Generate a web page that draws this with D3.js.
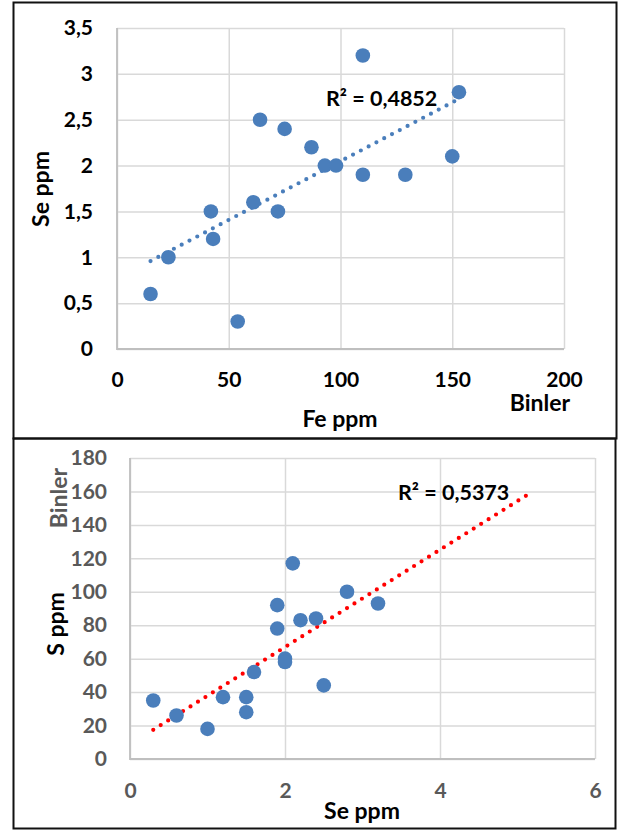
<!DOCTYPE html>
<html>
<head>
<meta charset="utf-8">
<script src="https://cdn.jsdelivr.net/npm/d3@7"></script>
<style>
  html, body { margin: 0; padding: 0; background: #fff; }
  svg { display: block; font-family: Lato, "Open Sans", sans-serif; font-weight: bold; }
</style>
</head>
<body>
<div id="chart"></div>
<script>
// Grafik 1: Fe ppm (Binler) - Se ppm
const feValues = [15, 23, 42, 43, 54, 61, 64, 72, 75, 87, 93, 98, 110, 110, 129, 150, 153];
const seValuesTop = [0.6, 1.0, 1.5, 1.2, 0.3, 1.6, 2.5, 1.5, 2.4, 2.2, 2.0, 2.0, 3.2, 1.9, 1.9, 2.1, 2.8];
const feTicks = [0, 50, 100, 150, 200];
const seTicksTop = [0, 0.5, 1, 1.5, 2, 2.5, 3, 3.5];
const r2Top = "R² = 0,4852";

// Grafik 2: Se ppm - S ppm (Binler)
const seValuesBottom = [0.3, 0.6, 1.0, 1.2, 1.5, 1.5, 1.6, 1.9, 1.9, 2.0, 2.0, 2.1, 2.2, 2.4, 2.5, 2.8, 3.2];
const sValues = [35, 26, 18, 37, 37, 28, 52, 92, 78, 60, 58, 117, 83, 84, 44, 100, 93];
const seTicksBottom = [0, 2, 4, 6];
const sTicks = [0, 20, 40, 60, 80, 100, 120, 140, 160, 180];
const r2Bottom = "R² = 0,5373";

const W = 618, H = 830;
const svg = d3.select("#chart").append("svg").attr("width", W).attr("height", H);

// cerceveler
svg.append("rect").attr("x", 13.5).attr("y", 2.5).attr("width", 603).attr("height", 436)
  .attr("fill", "none").attr("stroke", "#111").attr("stroke-width", 2);
svg.append("rect").attr("x", 13.5).attr("y", 438.5).attr("width", 602).attr("height", 390)
  .attr("fill", "none").attr("stroke", "#111").attr("stroke-width", 2);

const commaFmt = d => String(d).replace(".", ",");

// en kucuk kareler dogrusu
function linearFit(xs, ys) {
  const mx = d3.mean(xs), my = d3.mean(ys);
  const sxy = d3.sum(xs, (x, i) => (x - mx) * (ys[i] - my));
  const sxx = d3.sum(xs, x => (x - mx) * (x - mx));
  const slope = sxy / sxx;
  return { slope, intercept: my - slope * mx };
}

function drawPanel(opt) {
  const x = d3.scaleLinear().domain(opt.xDomain).range([opt.left, opt.right]);
  const y = d3.scaleLinear().domain(opt.yDomain).range([opt.bottom, opt.top]);
  const g = svg.append("g");

  // izgara
  g.append("g").attr("transform", `translate(0,${opt.bottom})`)
    .call(d3.axisBottom(x).tickValues(opt.xTicks).tickSize(-(opt.bottom - opt.top)).tickFormat(""))
    .call(a => a.select(".domain").remove())
    .call(a => a.selectAll("line").attr("stroke", "#d9d9d9").attr("stroke-width", 1.5));
  g.append("g").attr("transform", `translate(${opt.left},0)`)
    .call(d3.axisLeft(y).tickValues(opt.yTicks).tickSize(-(opt.right - opt.left)).tickFormat(""))
    .call(a => a.select(".domain").remove())
    .call(a => a.selectAll("line").attr("stroke", "#d9d9d9").attr("stroke-width", 1.5));

  // eksen cizgileri
  g.append("line").attr("x1", opt.left).attr("x2", opt.left).attr("y1", opt.top).attr("y2", opt.bottom + 1)
    .attr("stroke", "#bfbfbf").attr("stroke-width", 1.8);
  g.append("line").attr("x1", opt.left).attr("x2", opt.right).attr("y1", opt.bottom).attr("y2", opt.bottom)
    .attr("stroke", "#bfbfbf").attr("stroke-width", 1.8);

  // etiketler
  g.append("g").attr("transform", `translate(0,${opt.bottom})`)
    .call(d3.axisBottom(x).tickValues(opt.xTicks).tickSize(0).tickPadding(opt.xPad).tickFormat(opt.fmt))
    .call(a => a.select(".domain").remove())
    .call(a => a.selectAll("text").attr("fill", opt.tickColor).style("font-size", "21px")
      .style("font-family", "Lato, sans-serif").style("font-weight", "bold"));
  g.append("g").attr("transform", `translate(${opt.left},0)`)
    .call(d3.axisLeft(y).tickValues(opt.yTicks).tickSize(0).tickPadding(opt.yPad).tickFormat(opt.fmt))
    .call(a => a.select(".domain").remove())
    .call(a => a.selectAll("text").attr("fill", opt.tickColor).style("font-size", "21px")
      .style("font-family", "Lato, sans-serif").style("font-weight", "bold"));

  // trend cizgisi
  const fit = linearFit(opt.xs, opt.ys);
  const x0 = d3.min(opt.xs), x1 = d3.max(opt.xs) + opt.forecast;
  g.append("line")
    .attr("x1", x(x0)).attr("y1", y(fit.intercept + fit.slope * x0))
    .attr("x2", x(x1)).attr("y2", y(fit.intercept + fit.slope * x1))
    .attr("stroke", opt.trendColor).attr("stroke-width", 4.2)
    .attr("stroke-linecap", "round").attr("stroke-dasharray", "0 8.8");

  // noktalar
  g.selectAll("circle.pt").data(opt.xs.map((v, i) => [v, opt.ys[i]])).join("circle")
    .attr("class", "pt")
    .attr("cx", d => x(d[0])).attr("cy", d => y(d[1])).attr("r", 7.3)
    .attr("fill", "#4a7ebb");

  // R2
  g.append("text").attr("x", opt.r2x).attr("y", opt.r2y).attr("font-size", 21.5).attr("fill", "#000")
    .text(opt.r2);
}

drawPanel({
  xs: feValues, ys: seValuesTop,
  xDomain: [0, 200], yDomain: [0, 3.5],
  xTicks: feTicks, yTicks: seTicksTop,
  left: 117, right: 564, top: 28, bottom: 349,
  xPad: 23, yPad: 24, fmt: commaFmt, tickColor: "#000",
  trendColor: "#4a7ebb", forecast: 0,
  r2: r2Top, r2x: 326, r2y: 106
});

drawPanel({
  xs: seValuesBottom, ys: sValues,
  xDomain: [0, 6], yDomain: [0, 180],
  xTicks: seTicksBottom, yTicks: sTicks,
  left: 130, right: 595, top: 458, bottom: 759,
  xPad: 24, yPad: 23, fmt: commaFmt, tickColor: "#595959",
  trendColor: "#ff0000", forecast: 2,
  r2: r2Bottom, r2x: 398, r2y: 500
});

// eksen basliklari
svg.append("text").attr("transform", "translate(49,189) rotate(-90)").attr("text-anchor", "middle")
  .attr("font-size", 23).attr("fill", "#000").text("Se ppm");
svg.append("text").attr("x", 340).attr("y", 427).attr("text-anchor", "middle")
  .attr("font-size", 23).attr("fill", "#000").text("Fe ppm");
svg.append("text").attr("x", 540).attr("y", 411).attr("text-anchor", "middle")
  .attr("font-size", 23).attr("fill", "#000").text("Binler");

svg.append("text").attr("transform", "translate(67,498) rotate(-90)").attr("text-anchor", "middle")
  .attr("font-size", 23).attr("fill", "#595959").text("Binler");
svg.append("text").attr("transform", "translate(64,624) rotate(-90)").attr("text-anchor", "middle")
  .attr("font-size", 23).attr("fill", "#000").text("S ppm");
svg.append("text").attr("x", 362).attr("y", 819).attr("text-anchor", "middle")
  .attr("font-size", 23).attr("fill", "#000").text("Se ppm");
</script>
</body>
</html>
